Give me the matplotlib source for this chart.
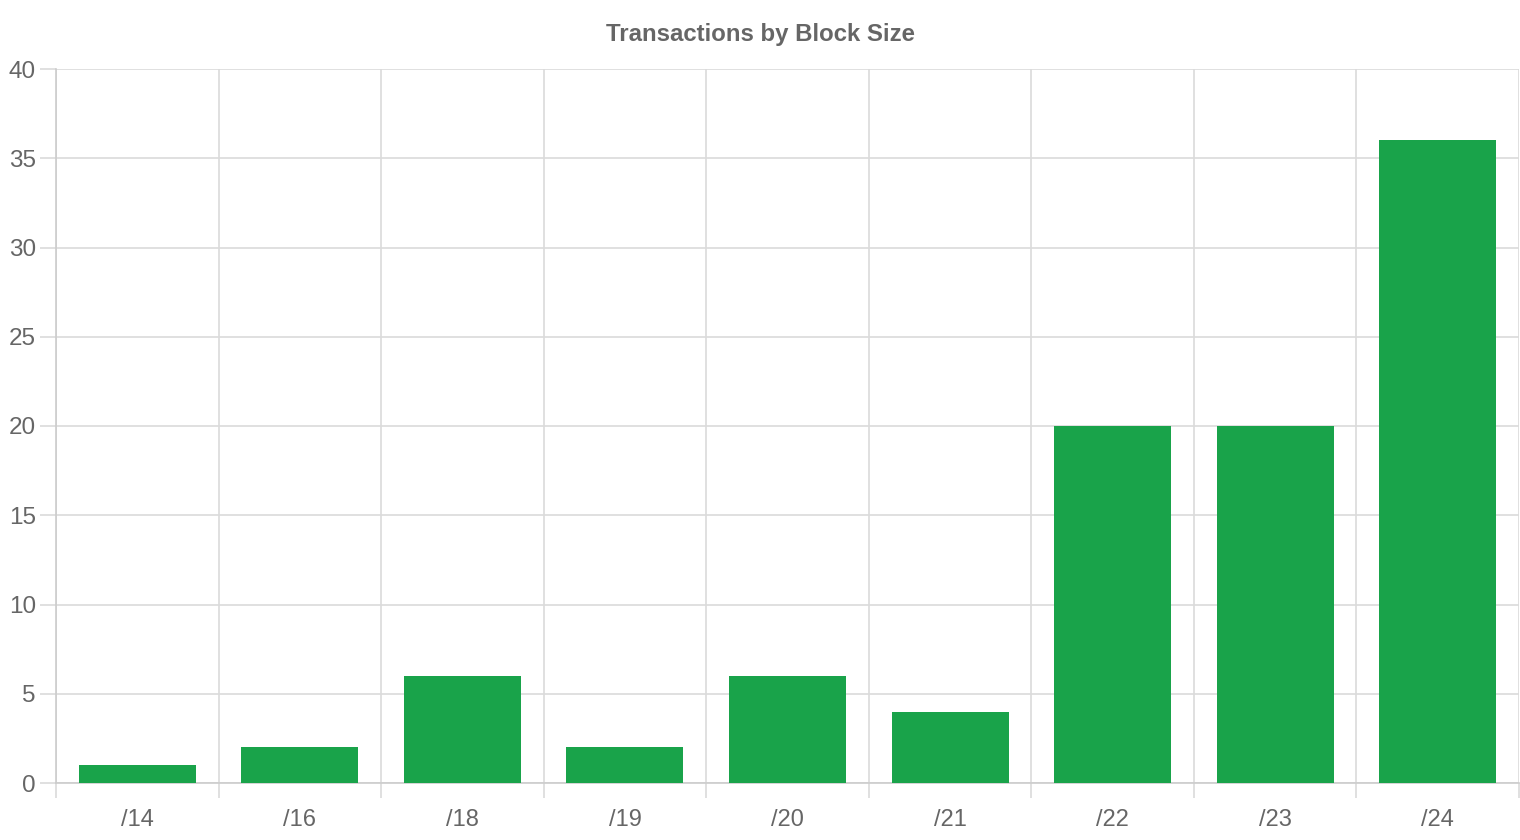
import matplotlib.pyplot as plt

plt.rcParams['font.family'] = ['Liberation Sans', 'DejaVu Sans']

block_sizes = ['/14', '/16', '/18', '/19', '/20', '/21', '/22', '/23', '/24']
transactions = [1, 2, 6, 2, 6, 4, 20, 20, 36]

grid_color = '#dadada'
text_color = '#666666'

fig = plt.figure(figsize=(15.2, 8.4), dpi=100)
ax = fig.add_axes([56 / 1520, 57 / 840, 1463 / 1520, 714 / 840])

x = range(len(block_sizes))
ax.bar(x, transactions, width=0.72, color='#19a34a', zorder=3)

ax.set_xlim(-0.5, len(block_sizes) - 0.5)
ax.set_ylim(0, 40)
ax.set_yticks(range(0, 41, 5))
ax.set_xticks(x)
ax.set_xticklabels(block_sizes)

# vertical grid lines sit between categories
ax.set_xticks([i - 0.5 for i in range(len(block_sizes) + 1)], minor=True)
ax.grid(True, axis='x', which='minor', color=grid_color, linewidth=1.2, zorder=0)
ax.grid(True, axis='y', which='major', color=grid_color, linewidth=1.2, zorder=0)

ax.tick_params(axis='x', which='major', length=0, pad=19, labelsize=17, labelcolor=text_color)
ax.tick_params(axis='x', which='minor', length=11, width=1.2, color=grid_color)
ax.tick_params(axis='y', length=11.5, width=1.2, color=grid_color, pad=3,
               labelsize=17.5, labelcolor=text_color)

for side in ['top', 'right']:
    ax.spines[side].set_visible(False)
for side in ['left', 'bottom']:
    ax.spines[side].set_color('#cccccc')
    ax.spines[side].set_linewidth(1.2)

fig.suptitle('Transactions by Block Size', y=1 - 34 / 840, va='center',
             fontsize=17.3, fontweight='bold', color=text_color)

fig.savefig('out.png', dpi=100)
